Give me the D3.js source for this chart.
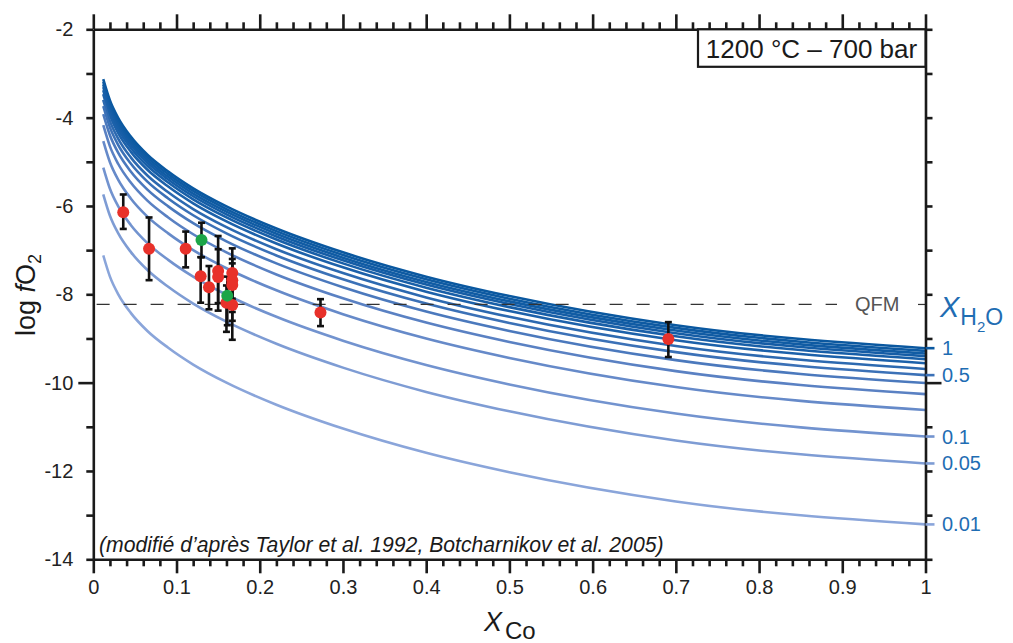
<!DOCTYPE html>
<html><head><meta charset="utf-8">
<script src="https://cdn.jsdelivr.net/npm/d3@7"></script>
<style>body{margin:0;background:#fff}</style>
</head><body><svg id="c" width="1013" height="643"></svg>
<script>
// ---- data ----
const xGrid = [0.012, 0.02, 0.03, 0.045, 0.065, 0.09, 0.12, 0.16, 0.22, 0.3, 0.4, 0.5, 0.7, 1.0];
const curve01 = [-3.13, -3.61, -4.01, -4.43, -4.84, -5.22, -5.60, -6.01, -6.51, -7.05, -7.60, -8.04, -8.70, -9.22];
const curve02 = [-3.19, -3.67, -4.07, -4.49, -4.90, -5.28, -5.66, -6.07, -6.57, -7.11, -7.66, -8.10, -8.76, -9.28];
const curve03 = [-3.25, -3.73, -4.13, -4.55, -4.96, -5.34, -5.72, -6.13, -6.63, -7.17, -7.72, -8.16, -8.82, -9.34];
const curve04 = [-3.31, -3.79, -4.19, -4.61, -5.02, -5.40, -5.78, -6.19, -6.69, -7.23, -7.78, -8.22, -8.88, -9.40];
const curve05 = [-3.38, -3.86, -4.26, -4.68, -5.09, -5.47, -5.85, -6.26, -6.76, -7.30, -7.85, -8.29, -8.95, -9.47];
const curve06 = [-3.47, -3.95, -4.35, -4.77, -5.18, -5.56, -5.94, -6.35, -6.85, -7.39, -7.94, -8.38, -9.04, -9.56];
const curve07 = [-3.60, -4.08, -4.48, -4.90, -5.31, -5.69, -6.07, -6.48, -6.98, -7.52, -8.07, -8.51, -9.17, -9.69];
const curve08 = [-3.74, -4.22, -4.62, -5.04, -5.45, -5.83, -6.21, -6.62, -7.12, -7.66, -8.21, -8.65, -9.31, -9.83];
const curve09 = [-3.92, -4.40, -4.80, -5.22, -5.63, -6.01, -6.39, -6.80, -7.30, -7.84, -8.39, -8.83, -9.49, -10.01];
const curve10 = [-4.17, -4.65, -5.05, -5.47, -5.88, -6.26, -6.64, -7.05, -7.55, -8.09, -8.64, -9.08, -9.74, -10.26];
const curve11 = [-4.53, -5.01, -5.41, -5.83, -6.24, -6.62, -7.00, -7.41, -7.91, -8.45, -9.00, -9.44, -10.10, -10.62];
const curve12 = [-5.13, -5.61, -6.01, -6.43, -6.84, -7.22, -7.60, -8.01, -8.51, -9.05, -9.60, -10.04, -10.70, -11.22];
const curve13 = [-5.74, -6.22, -6.62, -7.04, -7.45, -7.83, -8.21, -8.62, -9.12, -9.66, -10.21, -10.65, -11.31, -11.83];
const curve14 = [-7.12, -7.60, -8.00, -8.42, -8.83, -9.21, -9.59, -10.00, -10.50, -11.04, -11.59, -12.03, -12.69, -13.21];
const curveLabels = ["1", "", "", "", "", "", "", "0.5", "", "", "", "0.1", "0.05", "0.01"];

const pointX      = [0.036, 0.067, 0.111, 0.129, 0.139, 0.150, 0.150, 0.160, 0.167, 0.167, 0.167, 0.167, 0.273, 0.691, 0.130, 0.161];
const pointY      = [-6.14, -6.97, -6.97, -7.59, -7.84, -7.47, -7.61, -8.19, -7.52, -7.68, -7.79, -8.24, -8.41, -9.01, -6.77, -8.03];
const pointErrTop = [-5.74, -6.26, -6.58, -7.16, -7.36, -6.68, -6.98, -7.80, -6.96, -7.20, -7.30, -7.70, -8.11, -8.63, -6.38, -7.60];
const pointErrBot = [-6.52, -7.68, -7.39, -8.19, -8.34, -8.20, -8.37, -8.85, -8.10, -8.40, -8.60, -9.03, -8.72, -9.42, -7.16, -8.70];
const pointGroup  = ["a","a","a","a","a","a","a","a","a","a","a","a","a","a","b","b"];

const qfmValue = -8.23;
const xTicksMajor = [0, 0.1, 0.2, 0.3, 0.4, 0.5, 0.6, 0.7, 0.8, 0.9, 1];
const xTickLabels = ["0", "0.1", "0.2", "0.3", "0.4", "0.5", "0.6", "0.7", "0.8", "0.9", "1"];
const yTicks = [-2, -3, -4, -5, -6, -7, -8, -9, -10, -11, -12, -13, -14];
const yTickLabels = ["-2", "", "-4", "", "-6", "", "-8", "", "-10", "", "-12", "", "-14"];

// ---- drawing ----
const curves = [curve01, curve02, curve03, curve04, curve05, curve06, curve07, curve08, curve09, curve10, curve11, curve12, curve13, curve14];
const svg = d3.select("#c");
const x = d3.scaleLinear().domain([0, 1]).range([93.3, 925.5]);
const y = d3.scaleLinear().domain([-2, -14]).range([29.3, 559.3]);
const FONT = 'Arial, "Liberation Sans", sans-serif';
const blue = "#1f6db3";

const colorOf = d3.scaleLinear().domain([0, 5, 9, 13]).range(["#0a58a0", "#1c61aa", "#5a81c3", "#8aa5da"]);
const line = d3.line().x(d => x(d[0])).y(d => y(d[1])).curve(d3.curveMonotoneX);

svg.append("g").selectAll("path").data(curves).join("path")
  .attr("d", c => line(c.map((v, i) => [xGrid[i], v])))
  .attr("fill", "none")
  .attr("stroke", (c, i) => colorOf(i))
  .attr("stroke-width", 2.6);

// QFM dashed line
const qfm = svg.append("g").attr("stroke", "#333").attr("stroke-width", 1.2).attr("stroke-dasharray", "13,14");
qfm.append("line").attr("x1", x(0.004)).attr("x2", 837).attr("y1", y(qfmValue)).attr("y2", y(qfmValue));
qfm.append("line").attr("x1", 918).attr("x2", x(1)).attr("y1", y(qfmValue)).attr("y2", y(qfmValue));
svg.append("text").attr("x", 855).attr("y", y(qfmValue) + 7).attr("font-size", 20).attr("font-family", FONT)
  .attr("fill", "#555").text("QFM");

// error bars
const eb = svg.append("g").attr("stroke", "#111").attr("stroke-width", 2.6);
pointX.forEach((px, i) => {
  eb.append("line").attr("x1", x(px)).attr("x2", x(px)).attr("y1", y(pointErrTop[i])).attr("y2", y(pointErrBot[i]));
  eb.append("line").attr("x1", x(px) - 3.5).attr("x2", x(px) + 3.5).attr("y1", y(pointErrTop[i])).attr("y2", y(pointErrTop[i]));
  eb.append("line").attr("x1", x(px) - 3.5).attr("x2", x(px) + 3.5).attr("y1", y(pointErrBot[i])).attr("y2", y(pointErrBot[i]));
});
svg.append("g").selectAll("circle").data(pointX).join("circle")
  .attr("cx", d => x(d)).attr("cy", (d, i) => y(pointY[i])).attr("r", 6)
  .attr("fill", (d, i) => pointGroup[i] === "a" ? "#e8312a" : "#1ca548");

// axes
const minorX = d3.range(0, 51).map(i => i / 50).filter(v => Math.round(v * 50) % 5 !== 0);
function styleAxis(g) {
  g.selectAll("path.domain").attr("stroke", "#1a1a1a").attr("stroke-width", 2.6);
  g.selectAll(".tick line").attr("stroke", "#1a1a1a").attr("stroke-width", 2.6);
  g.selectAll(".tick text").attr("font-size", 20).attr("fill", "#222").attr("font-family", FONT);
}
// bottom
const gb = svg.append("g").attr("transform", `translate(0,${y(-14)})`);
gb.call(d3.axisBottom(x).tickValues(xTicksMajor).tickSize(14).tickSizeOuter(0).tickPadding(7)
  .tickFormat((d, i) => xTickLabels[i]));
gb.append("g").call(d3.axisBottom(x).tickValues(minorX).tickSize(7).tickSizeOuter(0).tickFormat(""))
  .select("path.domain").remove();
styleAxis(gb);
// top
const gt = svg.append("g").attr("transform", `translate(0,${y(-2)})`);
gt.call(d3.axisTop(x).tickValues(xTicksMajor).tickSize(15).tickSizeOuter(0).tickFormat(""));
gt.append("g").call(d3.axisTop(x).tickValues(minorX).tickSize(7).tickSizeOuter(0).tickFormat(""))
  .select("path.domain").remove();
styleAxis(gt);
// left
const gl = svg.append("g").attr("transform", `translate(${x(0)},0)`);
gl.call(d3.axisLeft(y).tickValues(yTicks).tickSize(7).tickSizeOuter(0).tickPadding(6)
  .tickFormat((d, i) => yTickLabels[i]));
gl.selectAll(".tick").filter(d => d === -10).select("line").attr("x2", -15);
gl.selectAll(".tick text").attr("x", -20);
styleAxis(gl);
// right
const gr = svg.append("g").attr("transform", `translate(${x(1)},0)`);
gr.call(d3.axisRight(y).tickValues(yTicks).tickSize(7).tickSizeOuter(0).tickFormat(""));
gr.selectAll(".tick").filter(d => d === -10).select("line").attr("x2", 16);
styleAxis(gr);

// curve labels on the right
curves.forEach((c, i) => {
  if (!curveLabels[i]) return;
  const yy = y(c[c.length - 1]);
  svg.append("line").attr("x1", x(1)).attr("x2", x(1) + 9).attr("y1", yy).attr("y2", yy)
    .attr("stroke", colorOf(i)).attr("stroke-width", 2.6);
  svg.append("text").attr("x", 942).attr("y", yy + 7).attr("font-size", 20).attr("font-family", FONT)
    .attr("fill", blue).text(curveLabels[i]);
});
// X_H2O title
const th = svg.append("text").attr("fill", blue).attr("x", 940).attr("y", 317).attr("font-family", FONT);
th.append("tspan").attr("font-size", 29).attr("font-style", "italic").text("X");
th.append("tspan").attr("font-size", 23).attr("dy", 8).attr("dx", 1).text("H");
th.append("tspan").attr("font-size", 15).attr("dy", 7).text("2");
th.append("tspan").attr("font-size", 23).attr("dy", -7).text("O");

// legend box
svg.append("rect").attr("x", 698).attr("y", y(-2)).attr("width", x(1) - 698).attr("height", 37.5)
  .attr("fill", "#fff").attr("stroke", "#1a1a1a").attr("stroke-width", 2.2);
svg.append("text").attr("x", 811.5).attr("y", 57.5).attr("text-anchor", "middle").attr("font-size", 26)
  .attr("font-family", FONT).attr("fill", "#1a1a1a").text("1200 °C – 700 bar");

// annotation
svg.append("text").attr("x", 99).attr("y", 551.5).attr("font-size", 21.2).attr("font-style", "italic")
  .attr("font-family", FONT).attr("fill", "#1a1a1a")
  .text("(modifié d’après Taylor et al. 1992, Botcharnikov et al. 2005)");

// axis titles
const xt = svg.append("g").attr("fill", "#1a1a1a").attr("font-family", FONT);
xt.append("text").attr("x", 484).attr("y", 631).attr("font-size", 27).attr("font-style", "italic").text("X");
xt.append("text").attr("x", 505).attr("y", 639).attr("font-size", 24).text("Co");
const yt = svg.append("text").attr("transform", "translate(35,295) rotate(-90)").attr("text-anchor", "middle")
  .attr("fill", "#1a1a1a").attr("font-family", FONT);
yt.append("tspan").attr("font-size", 27).text("log ");
yt.append("tspan").attr("font-size", 27).attr("font-style", "italic").text("f");
yt.append("tspan").attr("font-size", 27).text("O");
yt.append("tspan").attr("font-size", 18).attr("dy", 6).text("2");
</script></body></html>
